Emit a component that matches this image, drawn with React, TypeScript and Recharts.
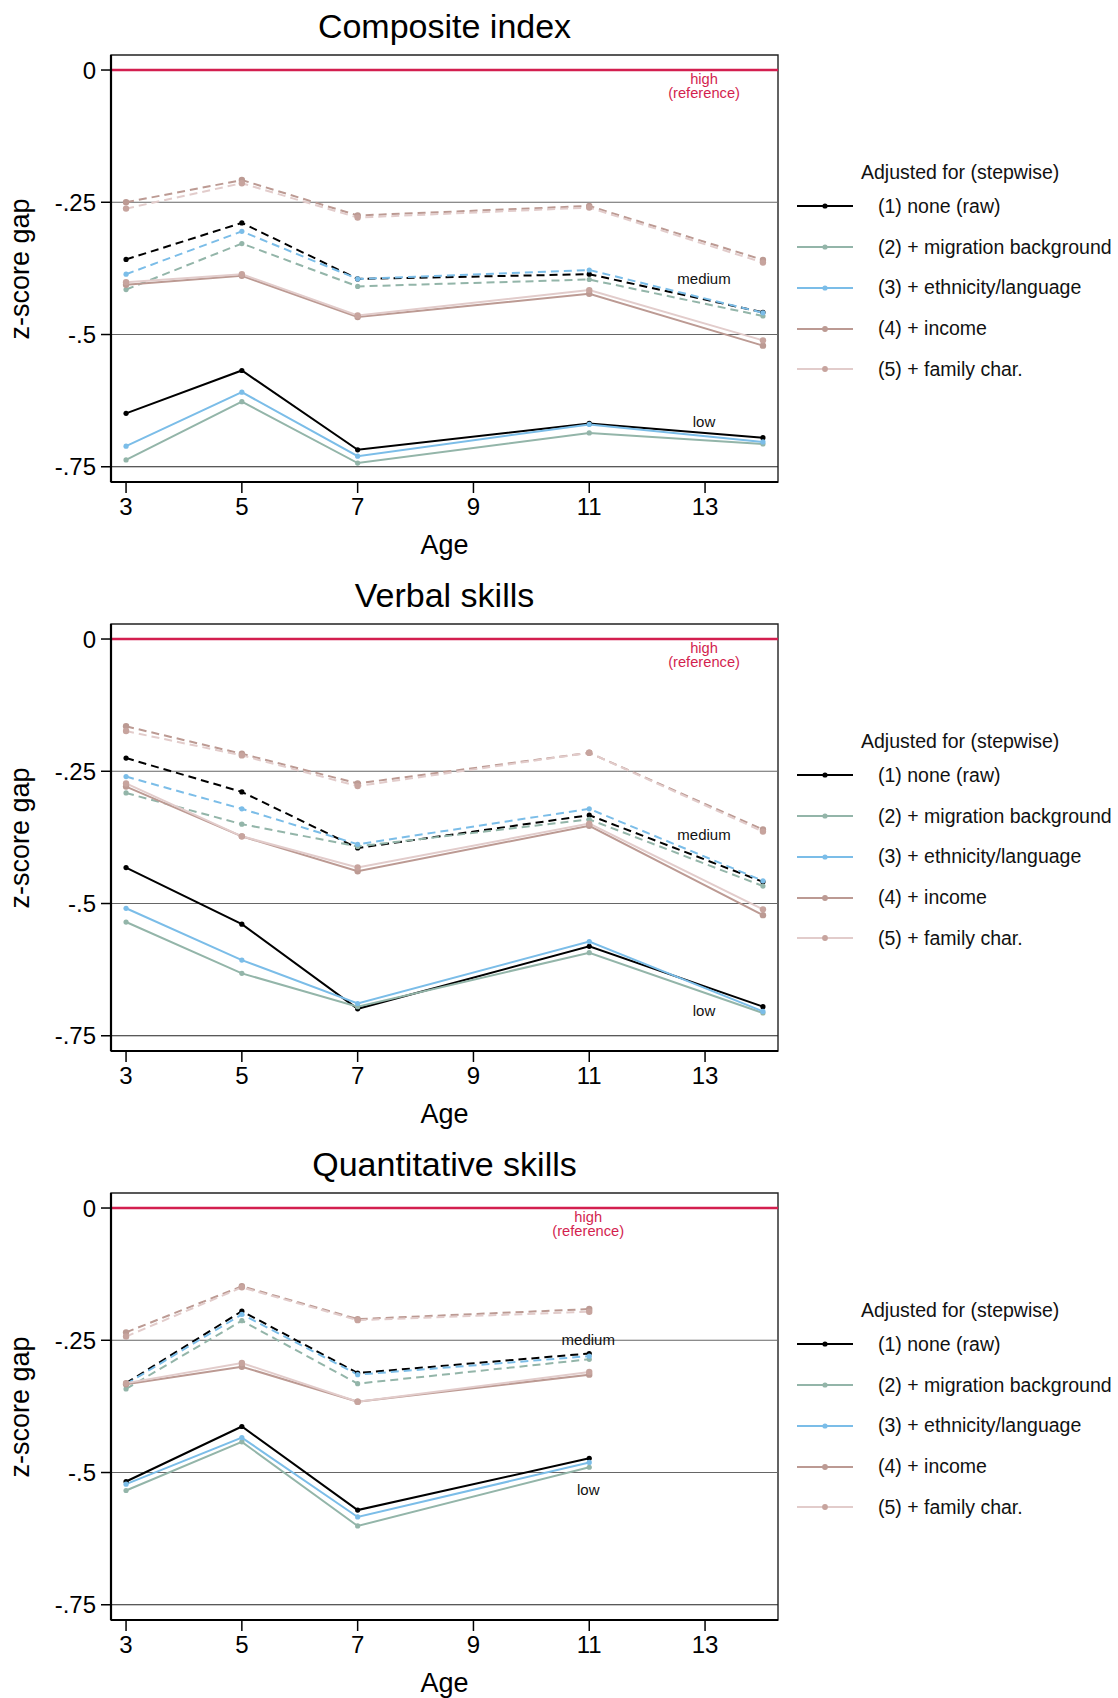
import React from 'react';
import { LineChart, Line, XAxis, YAxis, ReferenceLine, ReferenceArea, ReferenceDot } from 'recharts';

const FONT = '"Liberation Sans", Arial, Helvetica, sans-serif';

const AGES = [3, 5, 7, 11, 14];
const AGE_TICKS = [3, 5, 7, 9, 11, 13];
const GAP_TICKS = [0, -0.25, -0.5, -0.75];

const ADJUSTMENTS = [
  '(1) none (raw)',
  '(2) + migration background',
  '(3) + ethnicity/language',
  '(4) + income',
  '(5) + family char.',
];
const LINE_COLORS = ['#000000', '#93b5a9', '#7bbde8', '#bc9a93', '#e2cccb'];
const DOT_COLORS = ['#000000', '#93b5a9', '#7bbde8', '#bc9a93', '#c7a49e'];

// rows = adjustment step (1)..(5), columns = ages 3, 5, 7, 11, 14
const compositeMedium = [
  [-0.358, -0.289, -0.395, -0.386, -0.458],
  [-0.415, -0.328, -0.409, -0.396, -0.465],
  [-0.386, -0.305, -0.395, -0.378, -0.459],
  [-0.25, -0.208, -0.275, -0.257, -0.359],
  [-0.262, -0.214, -0.279, -0.26, -0.364],
];
const compositeLow = [
  [-0.649, -0.568, -0.718, -0.668, -0.695],
  [-0.737, -0.627, -0.743, -0.686, -0.707],
  [-0.711, -0.609, -0.73, -0.67, -0.703],
  [-0.406, -0.389, -0.467, -0.423, -0.521],
  [-0.401, -0.386, -0.464, -0.416, -0.511],
];
const verbalMedium = [
  [-0.225, -0.289, -0.395, -0.333, -0.459],
  [-0.291, -0.35, -0.392, -0.341, -0.467],
  [-0.26, -0.321, -0.388, -0.321, -0.457],
  [-0.165, -0.217, -0.273, -0.215, -0.36],
  [-0.174, -0.22, -0.278, -0.215, -0.364],
];
const verbalLow = [
  [-0.432, -0.539, -0.699, -0.581, -0.695],
  [-0.535, -0.632, -0.695, -0.593, -0.707],
  [-0.509, -0.607, -0.689, -0.572, -0.704],
  [-0.279, -0.373, -0.439, -0.353, -0.522],
  [-0.273, -0.373, -0.432, -0.349, -0.511],
];
// no age-14 wave for the quantitative scores
const quantMedium = [
  [-0.331, -0.195, -0.312, -0.275, null],
  [-0.342, -0.213, -0.332, -0.286, null],
  [-0.333, -0.201, -0.315, -0.28, null],
  [-0.235, -0.148, -0.21, -0.191, null],
  [-0.243, -0.15, -0.212, -0.196, null],
];
const quantLow = [
  [-0.517, -0.413, -0.571, -0.473, null],
  [-0.534, -0.442, -0.601, -0.49, null],
  [-0.522, -0.434, -0.584, -0.481, null],
  [-0.333, -0.3, -0.366, -0.315, null],
  [-0.331, -0.293, -0.366, -0.31, null],
];

// group label anchors: [age, gap] for high / medium / low
const compositeLabels = [[13, 0], [13, -0.397], [13, -0.667]];
const verbalLabels = [[13, 0], [13, -0.373], [13, -0.705]];
const quantLabels = [[11, 0], [11, -0.252], [11, -0.535]];

const X_DOMAIN = [2.74, 14.26];
const Y_DOMAIN = [-0.7788, 0.0284];

const PANEL_W = 1118;
const PANEL_H = 569;
const PLOT_LEFT = 111;
const PLOT_RIGHT = 778;
const PLOT_TOP = 55;
const PLOT_BOTTOM = 482;

const fmtGap = (v: number) => (v === 0 ? '0' : v.toString().replace('0.', '.'));

const HighLabel = ({ viewBox }: any) => {
  const { x, y } = viewBox;
  return (
    <text x={x} y={y} textAnchor="middle" fill="#d31f4f" fontSize={14.7} fontFamily={FONT}>
      <tspan x={x} dy={15}>high</tspan>
      <tspan x={x} dy={14}>(reference)</tspan>
    </text>
  );
};

const GroupLabel = (text: string) => ({ viewBox }: any) => (
  <text x={viewBox.x} y={viewBox.y + 5} textAnchor="middle" fill="#111" fontSize={15} fontFamily={FONT}>
    {text}
  </text>
);

function Legend() {
  return (
    <div style={{ position: 'absolute', left: 797, top: 158, fontFamily: FONT, fontSize: 19.5, color: '#111' }}>
      <div style={{ marginLeft: 64, height: 28, lineHeight: '28px' }}>Adjusted for (stepwise)</div>
      {ADJUSTMENTS.map((name) => (
        <div key={name} style={{ display: 'flex', alignItems: 'center', height: 40.75 }}>
          <svg width={56} height={10} style={{ display: 'block' }}>
            <line x1={0} y1={5} x2={56} y2={5} stroke={LINE_COLORS[ADJUSTMENTS.indexOf(name)]} strokeWidth={2} />
            <circle
              cx={28}
              cy={5}
              r={ADJUSTMENTS.indexOf(name) > 2 ? 2.9 : 2.6}
              fill={DOT_COLORS[ADJUSTMENTS.indexOf(name)]}
            />
          </svg>
          <span style={{ marginLeft: 25, whiteSpace: 'nowrap' }}>{name}</span>
        </div>
      ))}
    </div>
  );
}

interface PanelProps {
  title: string;
  medium: (number | null)[][];
  low: (number | null)[][];
  labels: number[][];
  top: number;
}

function Panel({ title, medium, low, labels, top }: PanelProps) {
  const data = AGES.map((age, i) => {
    const row: any = { age };
    for (let k = 0; k < 5; k++) {
      row['m' + k] = medium[k][i];
      row['l' + k] = low[k][i];
    }
    return row;
  });

  return (
    <div style={{ position: 'absolute', left: 0, top, width: PANEL_W, height: PANEL_H }}>
      <div
        style={{
          position: 'absolute', left: PLOT_LEFT, width: PLOT_RIGHT - PLOT_LEFT, top: 7,
          textAlign: 'center', fontFamily: FONT, fontSize: 34, lineHeight: '39px', color: '#000',
        }}
      >
        {title}
      </div>
      <div
        style={{
          position: 'absolute', left: 20, top: (PLOT_TOP + PLOT_BOTTOM) / 2, width: 0, height: 0,
        }}
      >
        <div
          style={{
            position: 'absolute', transform: 'translate(-50%, -50%) rotate(-90deg)', whiteSpace: 'nowrap',
            fontFamily: FONT, fontSize: 27, color: '#000',
          }}
        >
          z-score gap
        </div>
      </div>
      <div
        style={{
          position: 'absolute', left: PLOT_LEFT, width: PLOT_RIGHT - PLOT_LEFT, top: 529,
          textAlign: 'center', fontFamily: FONT, fontSize: 27, lineHeight: '32px', color: '#000',
        }}
      >
        Age
      </div>
      <Legend />
      <LineChart
        width={PANEL_W}
        height={PANEL_H}
        data={data}
        margin={{ top: PLOT_TOP, right: PANEL_W - PLOT_RIGHT, bottom: 0, left: 0 }}
        style={{ fontFamily: FONT }}
      >
        <XAxis
          dataKey="age"
          type="number"
          domain={X_DOMAIN}
          ticks={AGE_TICKS}
          allowDataOverflow
          height={PANEL_H - PLOT_BOTTOM}
          tickSize={11}
          tickMargin={5}
          axisLine={{ stroke: '#000', strokeWidth: 2.2 }}
          tickLine={{ stroke: '#000', strokeWidth: 1.5 }}
          tick={{ fill: '#000', fontSize: 24 }}
        />
        <YAxis
          type="number"
          domain={Y_DOMAIN}
          ticks={GAP_TICKS}
          allowDataOverflow
          width={PLOT_LEFT}
          tickSize={10}
          tickMargin={5}
          tickFormatter={fmtGap}
          axisLine={{ stroke: '#000', strokeWidth: 2.2 }}
          tickLine={{ stroke: '#000', strokeWidth: 1.5 }}
          tick={{ fill: '#000', fontSize: 24 }}
        />
        <ReferenceArea
          x1={X_DOMAIN[0]} x2={X_DOMAIN[1]} y1={Y_DOMAIN[0]} y2={Y_DOMAIN[1]}
          fill="none" stroke="#222" strokeWidth={1.4} ifOverflow="visible"
        />
        <ReferenceLine y={-0.25} stroke="#666" strokeWidth={1.2} />
        <ReferenceLine y={-0.5} stroke="#666" strokeWidth={1.2} />
        <ReferenceLine y={-0.75} stroke="#222" strokeWidth={1} />
        <ReferenceLine y={0} stroke="#d31f4f" strokeWidth={2.5} />
        <ReferenceDot x={labels[0][0]} y={labels[0][1]} r={1} fill="none" stroke="none" label={<HighLabel />} />
        <ReferenceDot x={labels[1][0]} y={labels[1][1]} r={1} fill="none" stroke="none" label={GroupLabel('medium')} />
        <ReferenceDot x={labels[2][0]} y={labels[2][1]} r={1} fill="none" stroke="none" label={GroupLabel('low')} />
        {[0, 1, 2, 3, 4].flatMap((k) => [
          <Line
            key={'m' + k}
            dataKey={'m' + k}
            stroke={LINE_COLORS[k]}
            strokeWidth={2}
            strokeDasharray="8 5"
            dot={{ r: k > 2 ? 3.2 : 2.6, fill: DOT_COLORS[k], stroke: 'none' }}
            isAnimationActive={false}
          />,
          <Line
            key={'l' + k}
            dataKey={'l' + k}
            stroke={LINE_COLORS[k]}
            strokeWidth={2}
            dot={{ r: k > 2 ? 3.2 : 2.6, fill: DOT_COLORS[k], stroke: 'none' }}
            isAnimationActive={false}
          />,
        ])}
      </LineChart>
    </div>
  );
}

export default function App() {
  return (
    <div style={{ position: 'absolute', left: 0, top: 0, width: PANEL_W, height: 1698, background: '#fff' }}>
      <Panel title="Composite index" medium={compositeMedium} low={compositeLow} labels={compositeLabels} top={0} />
      <Panel title="Verbal skills" medium={verbalMedium} low={verbalLow} labels={verbalLabels} top={PANEL_H} />
      <Panel title="Quantitative skills" medium={quantMedium} low={quantLow} labels={quantLabels} top={PANEL_H * 2} />
    </div>
  );
}
